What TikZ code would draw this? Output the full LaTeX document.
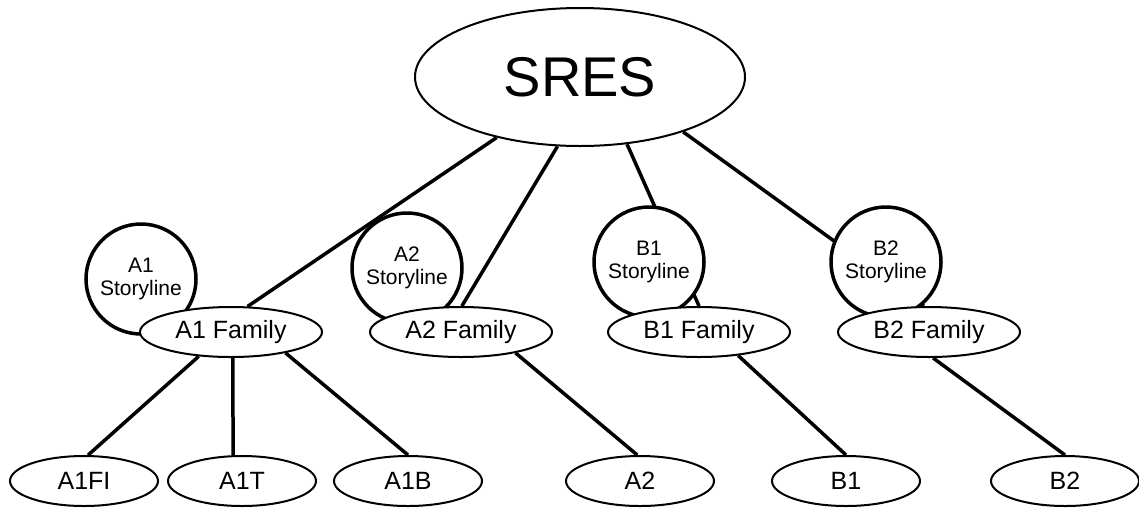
\documentclass[tikz,border=0pt]{standalone}
\usepackage{fontspec}
\setmainfont{Liberation Sans}
\usetikzlibrary{shapes.geometric,backgrounds}
\begin{document}
\begin{tikzpicture}[x=1pt,y=-1pt,
  top/.style={ellipse,draw,line width=2pt,fill=white,inner sep=0pt,
    minimum width=330pt,minimum height=138pt,font=\fontsize{56}{60}\selectfont},
  story/.style={circle,draw,line width=3.5pt,fill=white,inner sep=0pt,
    minimum size=110pt,align=center,font=\fontsize{21}{23}\selectfont},
  family/.style={ellipse,draw,line width=2pt,fill=white,inner sep=0pt,
    minimum width=182pt,minimum height=50pt,font=\fontsize{25}{28}\selectfont},
  leaf/.style={ellipse,draw,line width=2pt,fill=white,inner sep=0pt,
    minimum width=148pt,minimum height=50pt,font=\fontsize{25}{28}\selectfont},
  link/.style={line width=3.5pt}]
\useasboundingbox (0,0) rectangle (1139,507);

\node[top] (sres) at (580,77) {SRES};

\node[story] (a1s) at (141,279) {A1\\Storyline};
\node[story] (a2s) at (407,268) {A2\\Storyline};
\node[story] (b1s) at (649,262) {B1\\Storyline};
\node[story] (b2s) at (886,262) {B2\\Storyline};

\node[family] (a1f) at (231,332) {A1 Family};
\node[family] (a2f) at (461,332) {A2 Family};
\node[family] (b1f) at (699,332) {B1 Family};
\node[family] (b2f) at (929,332) {B2 Family};

\node[leaf] (a1fi) at (84,481) {A1FI};
\node[leaf] (a1t) at (242,481) {A1T};
\node[leaf] (a1b) at (408,481) {A1B};
\node[leaf] (a2) at (640,481) {A2};
\node[leaf] (b1) at (846,481) {B1};
\node[leaf] (b2) at (1065,481) {B2};

\begin{pgfonlayer}{background}
\fill[white] (0,0) rectangle (1139,507);
\draw[link] (sres.216) -- (a1f.57);
\draw[link] (sres.252) -- (a2f.88);
\draw[link] (sres.305) -- (b1f.north);
\draw[link] (sres.332) -- (b2f.101);
\draw[link] (a1f.217) -- (a1fi.81);
\draw[link] (a1f.274) -- (a1t.109);
\draw[link] (a1f.339) -- (a1b.north);
\draw[link] (a2f.339) -- (a2.96);
\draw[link] (b1f.329) -- (b1.north);
\draw[link] (b2f.279) -- (b2.north);
\end{pgfonlayer}
\end{tikzpicture}
\end{document}
